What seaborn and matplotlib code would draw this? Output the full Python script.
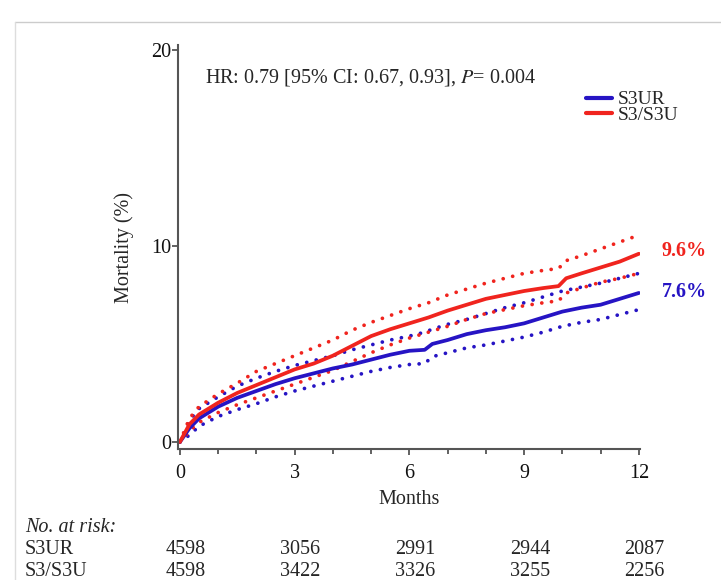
import matplotlib
matplotlib.use("Agg")
import matplotlib.pyplot as plt
import seaborn as sns
import pandas as pd
from matplotlib.lines import Line2D

# ---------------- data ----------------
months_a = [0, 0.25, 0.5, 1, 1.5, 2, 2.5, 3, 3.5, 4, 4.5, 5, 5.5, 6, 6.5, 7, 7.5, 8,
            8.5, 9, 9.5, 9.9, 10.1, 10.5, 11, 11.5, 12]
red_mid = [0, 0.9, 1.4, 2.0, 2.5, 2.9, 3.3, 3.7, 4.0, 4.4, 4.9, 5.4, 5.75, 6.05, 6.35, 6.7,
           7.0, 7.3, 7.5, 7.7, 7.85, 7.95, 8.35, 8.6, 8.9, 9.2, 9.6]
red_hi = [0, 1.2, 1.8, 2.45, 3.0, 3.6, 4.0, 4.4, 4.8, 5.2, 5.7, 6.1, 6.45, 6.8, 7.1, 7.5,
          7.8, 8.1, 8.35, 8.6, 8.75, 8.85, 9.25, 9.5, 9.85, 10.2, 10.55]
red_lo = [0, 0.55, 1.0, 1.5, 1.9, 2.25, 2.6, 2.95, 3.3, 3.65, 4.1, 4.55, 4.95, 5.3, 5.6, 5.9,
          6.25, 6.55, 6.75, 6.95, 7.1, 7.2, 7.6, 7.85, 8.15, 8.35, 8.6]

months_b = [0, 0.25, 0.5, 1, 1.5, 2, 2.5, 3, 3.5, 4, 4.5, 5, 5.5, 6, 6.4, 6.6, 7, 7.5, 8,
            8.5, 9, 9.5, 10, 10.5, 11, 11.5, 12]
blue_mid = [0, 0.7, 1.2, 1.8, 2.25, 2.6, 2.95, 3.25, 3.5, 3.75, 3.95, 4.2, 4.45, 4.65, 4.7,
            5.0, 5.2, 5.5, 5.7, 5.85, 6.05, 6.35, 6.65, 6.85, 7.0, 7.3, 7.6]
blue_hi = [0, 1.1, 1.7, 2.3, 2.85, 3.25, 3.6, 3.9, 4.15, 4.4, 4.7, 4.95, 5.2, 5.4, 5.6,
           5.75, 6.0, 6.25, 6.55, 6.85, 7.1, 7.4, 7.7, 7.9, 8.1, 8.35, 8.6]
blue_lo = [0, 0.35, 0.8, 1.3, 1.65, 1.95, 2.3, 2.6, 2.85, 3.1, 3.35, 3.6, 3.8, 3.95, 4.0,
           4.35, 4.55, 4.8, 4.95, 5.15, 5.35, 5.6, 5.9, 6.1, 6.25, 6.5, 6.75]

groups = ["S3UR", "S3/S3U"]
final_labels = ["7.6%", "9.6%"]
x_ticks = [0, 3, 6, 9, 12]
risk_s3ur = [4598, 3056, 2991, 2944, 2087]
risk_s3 = [4598, 3422, 3326, 3255, 2256]

# ---------------- style ----------------
sns.set_theme(style="ticks")
plt.rcParams["font.family"] = ["Liberation Serif", "DejaVu Serif"]
plt.rcParams["mathtext.fontset"] = "stix"

BLUE = "#2614c4"
RED = "#f0241e"
SPINE = "#555555"
FS = 14.5

fig = plt.figure(figsize=(7.21, 5.8), dpi=100)
ax = fig.add_axes([178 / 721, 1 - 449 / 580, (640 - 178) / 721, (449 - 45) / 580])

dfa = pd.DataFrame({"month": months_a, "mid": red_mid, "hi": red_hi, "lo": red_lo})
dfb = pd.DataFrame({"month": months_b, "mid": blue_mid, "hi": blue_hi, "lo": blue_lo})

dot = (0, (0.01, 2.6))
for df, col in [(dfb, BLUE), (dfa, RED)]:
    for c in ["hi", "lo"]:
        sns.lineplot(data=df, x="month", y=c, ax=ax, color=col, lw=2.7,
                     linestyle=dot, dash_capstyle="round", estimator=None)
sns.lineplot(data=dfb, x="month", y="mid", ax=ax, color=BLUE, lw=2.7, estimator=None)
sns.lineplot(data=dfa, x="month", y="mid", ax=ax, color=RED, lw=2.7, estimator=None)

ax.set_xlim(-0.05, 12.03)
ax.set_ylim(-0.36, 20.25)
ax.set_xticks(x_ticks)
ax.set_xticks(range(0, 13), minor=True)
ax.set_yticks([0, 10, 20])
ax.tick_params(axis="both", which="major", labelsize=FS, length=4, width=1.3,
               color=SPINE, labelcolor="#111111")
ax.tick_params(axis="x", which="major", pad=7)
ax.tick_params(axis="y", which="major", pad=1)
ax.tick_params(axis="x", which="minor", length=3.5, width=1.3, color=SPINE)
for s in ["top", "right"]:
    ax.spines[s].set_visible(False)
for s in ["left", "bottom"]:
    ax.spines[s].set_color(SPINE)
    ax.spines[s].set_linewidth(1.5)

ax.set_xlabel("Months", fontsize=FS, labelpad=5)
ax.set_ylabel("Mortality (%)", fontsize=FS, labelpad=12)

ax.text(0.65, 18.6, "HR: 0.79 [95% CI: 0.67, 0.93], $\\it{P}$= 0.004",
        fontsize=FS, va="center", ha="left")

handles = [Line2D([], [], color=BLUE, lw=3), Line2D([], [], color=RED, lw=3)]
ax.legend(handles, groups, loc="upper left", bbox_to_anchor=(576 / 721, 1 - 81 / 580),
          bbox_transform=fig.transFigure, frameon=False, fontsize=14,
          handlelength=1.35, handletextpad=0.3, labelspacing=-0.12, borderpad=0)

ax.text(13.18, 9.75, final_labels[1], color=RED, fontsize=FS, fontweight="bold",
        ha="center", va="center", clip_on=False)
ax.text(13.18, 7.65, final_labels[0], color=BLUE, fontsize=FS, fontweight="bold",
        ha="center", va="center", clip_on=False)

# risk table
trans = matplotlib.transforms.blended_transform_factory(ax.transData, fig.transFigure)
fig.text(25 / 721, 1 - 527 / 580, "No. at risk:", fontsize=FS, style="italic",
         va="center", ha="left")
rows = [("S3UR", risk_s3ur, 550), ("S3/S3U", risk_s3, 571)]
for name, vals, ypx in rows:
    fig.text(25 / 721, 1 - ypx / 580, name, fontsize=FS, va="center", ha="left")
    for xv, v in zip(x_ticks, vals):
        ax.text(xv + 0.15, 1 - ypx / 580, str(v), transform=trans, fontsize=FS,
                va="center", ha="center", clip_on=False)

# faint frame remnants
fig.add_artist(Line2D([15 / 721, 1], [1 - 22 / 580, 1 - 22 / 580], color="#cccccc", lw=1,
                      transform=fig.transFigure))
fig.add_artist(Line2D([15 / 721, 15 / 721], [0, 1 - 22 / 580], color="#dddddd", lw=1,
                      transform=fig.transFigure))

fig.savefig("out.png", dpi=100)
